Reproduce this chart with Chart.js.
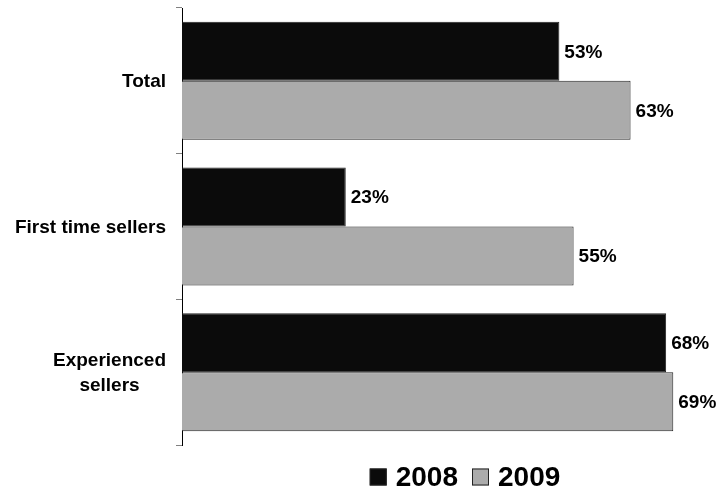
<!DOCTYPE html>
<html>
<head>
<meta charset="utf-8">
<script src="https://cdn.jsdelivr.net/npm/chart.js@4.4.1/dist/chart.umd.min.js"></script>
<style>
  html, body { margin: 0; padding: 0; background: #fff; }
  #wrap { width: 719px; height: 491px; }
</style>
</head>
<body>
<div id="wrap"><canvas id="chart" width="719" height="491"></canvas></div>
<script>
// seller share by year
const categories = ['Total', 'First time sellers', ['Experienced', 'sellers']];
const years = ['2008', '2009'];
const share2008 = [53, 23, 68];
const share2009 = [63, 55, 69];
const barColors = ['#0b0b0b', '#ababab'];

const FONT = "'Liberation Sans', Arial, Helvetica, sans-serif";

// percent labels at the end of each bar
const valueLabels = {
  id: 'valueLabels',
  afterDatasetsDraw(chart) {
    const ctx = chart.ctx;
    ctx.save();
    ctx.font = 'bold 19px ' + FONT;
    ctx.fillStyle = '#000';
    ctx.textAlign = 'left';
    ctx.textBaseline = 'middle';
    chart.data.datasets.forEach((ds, i) => {
      chart.getDatasetMeta(i).data.forEach((bar, j) => {
        ctx.fillText(ds.data[j] + '%', bar.x + 5, bar.y + 1);
      });
    });
    ctx.restore();
  }
};

// category names: block right-aligned to the axis, lines centred within it
const categoryLabels = {
  id: 'categoryLabels',
  afterDraw(chart) {
    const ctx = chart.ctx;
    const scale = chart.scales.y;
    const right = scale.right - 16, lineH = 25;
    ctx.save();
    ctx.font = 'bold 19px ' + FONT;
    ctx.fillStyle = '#000';
    ctx.textAlign = 'center';
    ctx.textBaseline = 'middle';
    chart.data.labels.forEach((lbl, i) => {
      const lines = [].concat(lbl);
      const w = Math.max(...lines.map(l => ctx.measureText(l).width));
      const cx = right - w / 2;
      const cy = scale.getPixelForTick(i) + 1;
      lines.forEach((l, k) => {
        ctx.fillText(l, cx, cy + (k - (lines.length - 1) / 2) * lineH);
      });
    });
    ctx.restore();
  }
};

// legend row under the plot
const bottomLegend = {
  id: 'bottomLegend',
  afterDraw(chart) {
    const ctx = chart.ctx;
    const box = 17, gap = 9, itemGap = 14;
    ctx.save();
    ctx.font = 'bold 28px ' + FONT;
    const items = chart.data.datasets.map(ds => ({
      label: ds.label, color: ds.backgroundColor, w: ctx.measureText(ds.label).width
    }));
    let total = items.reduce((s, it) => s + box + gap + it.w, 0) + itemGap * (items.length - 1);
    let x = 465 - total / 2;
    const cy = 477;
    ctx.textBaseline = 'middle';
    items.forEach(it => {
      ctx.fillStyle = it.color;
      ctx.fillRect(x, cy - box / 2, box, box);
      ctx.strokeStyle = '#222';
      ctx.lineWidth = 1;
      ctx.strokeRect(x + 0.5, cy - box / 2 + 0.5, box - 1, box - 1);
      ctx.fillStyle = '#000';
      ctx.fillText(it.label, x + box + gap, cy + 1);
      x += box + gap + it.w + itemGap;
    });
    ctx.restore();
  }
};

new Chart(document.getElementById('chart'), {
  type: 'bar',
  data: {
    labels: categories,
    datasets: [
      { label: years[0], data: share2008, backgroundColor: barColors[0], borderColor: '#222', borderWidth: 1 },
      { label: years[1], data: share2009, backgroundColor: barColors[1], borderColor: '#222', borderWidth: 1 }
    ]
  },
  options: {
    indexAxis: 'y',
    responsive: false,
    animation: false,
    devicePixelRatio: 1,
    layout: { padding: { top: 8, right: 3, bottom: 46, left: 0 } },
    datasets: { bar: { categoryPercentage: 0.81, barPercentage: 1 } },
    scales: {
      x: { display: false, min: 0, max: 75 },
      y: {
        // fixed axis width, labels drawn by categoryLabels
        afterFit(scale) {
          scale.width = 182;
          scale.paddingTop = 0;
          scale.paddingBottom = 0;
        },
        grid: { offset: true, drawOnChartArea: false, tickLength: 6, tickColor: '#808080', tickWidth: 1 },
        border: { color: '#000', width: 1 },
        ticks: { display: false }
      }
    },
    plugins: {
      legend: { display: false },
      tooltip: { enabled: false }
    }
  },
  plugins: [valueLabels, categoryLabels, bottomLegend]
});
</script>
</body>
</html>
